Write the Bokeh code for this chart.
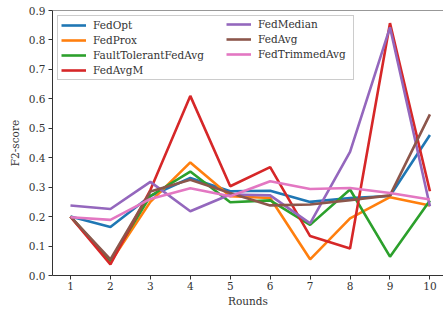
from bokeh.plotting import figure
from bokeh.models import Range1d, FixedTicker, NumeralTickFormatter, Legend, LegendItem, Span
from bokeh.embed import file_html
from bokeh.resources import INLINE

rounds = [1, 2, 3, 4, 5, 6, 7, 8, 9, 10]
fedopt = [0.20, 0.165, 0.27, 0.331, 0.286, 0.288, 0.250, 0.263, 0.270, 0.477]
fedprox = [0.20, 0.045, 0.25, 0.384, 0.269, 0.263, 0.055, 0.194, 0.266, 0.238]
faulttolerant = [0.20, 0.050, 0.27, 0.353, 0.249, 0.255, 0.172, 0.292, 0.064, 0.255]
fedavgm = [0.20, 0.038, 0.29, 0.610, 0.303, 0.368, 0.134, 0.092, 0.857, 0.286]
fedmedian = [0.238, 0.226, 0.318, 0.218, 0.275, 0.272, 0.177, 0.420, 0.843, 0.235]
fedavg = [0.20, 0.055, 0.285, 0.325, 0.280, 0.238, 0.241, 0.256, 0.272, 0.547]
fedtrimmed = [0.198, 0.189, 0.260, 0.296, 0.269, 0.320, 0.294, 0.297, 0.280, 0.258]

series_names = ["FedOpt", "FedProx", "FaultTolerantFedAvg", "FedAvgM",
                "FedMedian", "FedAvg", "FedTrimmedAvg"]
series_values = [fedopt, fedprox, faulttolerant, fedavgm, fedmedian, fedavg, fedtrimmed]
colors = ["#1f77b4", "#ff7f0e", "#2ca02c", "#d62728", "#9467bd", "#8c564b", "#e377c2"]
y_ticks = [0.0, 0.1, 0.2, 0.3, 0.4, 0.5, 0.6, 0.7, 0.8, 0.9]

FONT = "DejaVu Serif, serif"
TXT = "#333333"

p = figure(width=443, height=309, output_backend="svg", toolbar_location=None,
           x_range=Range1d(0.55, 10.34), y_range=Range1d(0.0, 0.9),
           min_border_left=52, min_border_bottom=33, min_border_top=10, min_border_right=0)
p.outline_line_color = None
p.xgrid.visible = False
p.ygrid.visible = False

renderers = []
for name, vals, c in zip(series_names, series_values, colors):
    r = p.line(rounds, vals, line_color=c, line_width=2.6)
    renderers.append(r)

for ax in (p.xaxis[0], p.yaxis[0]):
    ax.axis_line_color = "#333333"
    ax.major_tick_line_color = "#333333"
    ax.major_tick_out = 4
    ax.major_tick_in = 0
    ax.minor_tick_line_color = None
    ax.major_label_text_font = FONT
    ax.major_label_text_font_size = "10.5px"
    ax.major_label_text_color = TXT
    ax.axis_label_text_font = FONT
    ax.axis_label_text_font_size = "10.5px"
    ax.axis_label_text_font_style = "normal"
    ax.axis_label_text_color = TXT

p.xaxis.ticker = FixedTicker(ticks=rounds)
p.yaxis.ticker = FixedTicker(ticks=y_ticks)
p.yaxis.formatter = NumeralTickFormatter(format="0.0")
p.xaxis.axis_label = "Rounds"
p.yaxis.axis_label = "F2-score"
p.xaxis.major_label_standoff = 2
p.xaxis.axis_label_standoff = 2
p.yaxis.major_label_standoff = 3
p.yaxis.axis_label_standoff = 5

top = Span(location=0.9, dimension="width", line_color="#333333", line_width=1)
p.add_layout(top)

def style(leg):
    leg.label_text_font = FONT
    leg.label_text_font_size = "10.5px"
    leg.label_text_color = TXT
    leg.glyph_width = 25
    leg.glyph_height = 12
    leg.label_height = 12
    leg.label_standoff = 7
    leg.spacing = 3
    leg.padding = 3

legA = Legend(items=[LegendItem(label=n, renderers=[r]) for n, r in zip(series_names[:4], renderers[:4])],
              location="top_left")
style(legA)
legA.margin = 5
legA.label_width = 257
legA.border_line_color = "#cccccc"
legA.border_line_alpha = 1.0
legA.border_line_width = 1
legA.background_fill_color = "white"
legA.background_fill_alpha = 0.85

legB = Legend(items=[LegendItem(label=n, renderers=[r]) for n, r in zip(series_names[4:], renderers[4:])],
              location=(171, 212))
style(legB)
legB.margin = 0
legB.border_line_alpha = 0
legB.background_fill_alpha = 0

p.add_layout(legA)
p.add_layout(legB)

open("out.html", "w").write(file_html(p, INLINE))
